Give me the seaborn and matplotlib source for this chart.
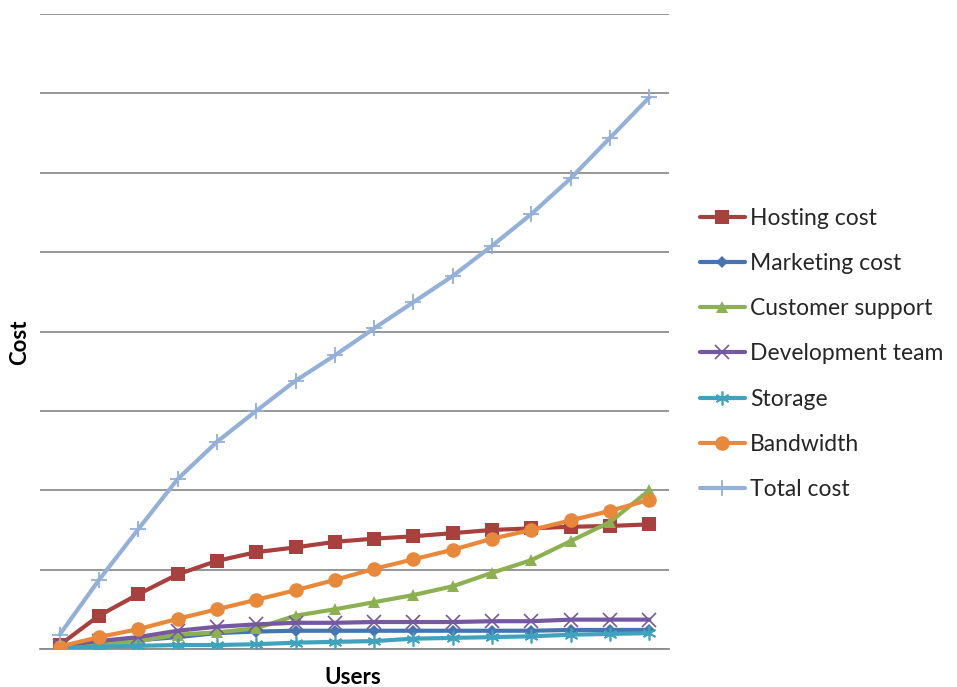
import matplotlib
matplotlib.use("Agg")
import matplotlib.pyplot as plt
import seaborn as sns
import pandas as pd
import numpy as np

# Monthly user growth steps (category axis, no labels shown)
steps = list(range(16))

hosting = [5, 42, 69, 94, 111, 122, 128, 135, 139, 142, 146, 150, 152, 154, 155, 157]
marketing = [4, 8, 11, 15, 20, 22, 23, 23, 23, 23, 23, 23, 23, 24, 24, 24]
customer_support = [1, 6, 10, 18, 21, 26, 42, 50, 59, 68, 79, 96, 112, 136, 160, 200]
development = [4, 10, 15, 23, 28, 31, 33, 33, 34, 34, 34, 35, 35, 37, 37, 37]
storage = [1, 3, 4, 5, 5, 6, 8, 9, 10, 13, 14, 15, 16, 18, 19, 20]
bandwidth = [3, 15, 25, 38, 50, 62, 74, 87, 101, 113, 125, 139, 150, 162, 174, 188]
total = [18, 87, 151, 214, 261, 300, 338, 370, 404, 437, 470, 508, 548, 593, 644, 695]

series_names = ["Hosting cost", "Marketing cost", "Customer support",
                "Development team", "Storage", "Bandwidth", "Total cost"]
series_values = [hosting, marketing, customer_support, development,
                 storage, bandwidth, total]

colors = ["#A8403D", "#4575B0", "#8DB152", "#7458A0", "#3FA3BD", "#E8883A", "#93B0D9"]
markers = ["s", "D", "^", "x", (6, 2, 0), "o", "+"]
msizes = [10, 6.5, 9, 10, 10, 10.5, 11]
medge = [0, 0, 0, 1.2, 1.2, 0, 1.3]

df = pd.DataFrame({
    "step": np.tile(steps, len(series_names)),
    "cost": np.concatenate(series_values),
    "series": np.repeat(series_names, len(steps)),
})

sns.set_theme(style="white")
plt.rcParams["font.family"] = ["Lato", "DejaVu Sans"]

fig = plt.figure(figsize=(9.57, 6.87), dpi=100)
ax = fig.add_axes([40 / 957, 38 / 687, 629 / 957, 635 / 687])

for name, col, mk, ms, mew in zip(series_names, colors, markers, msizes, medge):
    sub = df[df["series"] == name]
    filled = mew == 0
    sns.lineplot(
        data=sub, x="step", y="cost", ax=ax, color=col, linewidth=3.0,
        marker=mk, markersize=ms,
        markeredgewidth=mew if not filled else 0,
        markerfacecolor=col, markeredgecolor=col,
        label=name, legend=False, zorder=3,
    )

ax.set_xlim(-0.5, 15.5)
ax.set_ylim(0, 800)
ax.set_yticks(np.arange(0, 801, 100))
ax.set_xticks([])
ax.yaxis.grid(True, color="#8E8E8E", linewidth=1.3)
ax.xaxis.grid(False)
ax.tick_params(left=False, bottom=False, labelleft=False, labelbottom=False)
for side in ["left", "right", "top"]:
    ax.spines[side].set_visible(False)
ax.spines["bottom"].set_color("#8E8E8E")
ax.spines["bottom"].set_linewidth(1.3)
ax.set_axisbelow(True)

ax.set_xlabel("")
ax.set_ylabel("")
fig.text(353 / 957, 1 - 677 / 687, "Users", ha="center", va="center",
         fontsize=16, fontweight="bold", color="#000000")
fig.text(20 / 957, 1 - 342 / 687, "Cost", ha="center", va="center",
         rotation=90, fontsize=16, fontweight="bold", color="#000000")

handles, labels = ax.get_legend_handles_labels()
fig.legend(handles, labels, loc="center left",
           bbox_to_anchor=(700 / 957, 1 - 354 / 687),
           frameon=False, fontsize=16.5, handlelength=1.96,
           handletextpad=0.22, labelspacing=1.05, borderpad=0,
           borderaxespad=0)

fig.savefig("out.png", dpi=100)
